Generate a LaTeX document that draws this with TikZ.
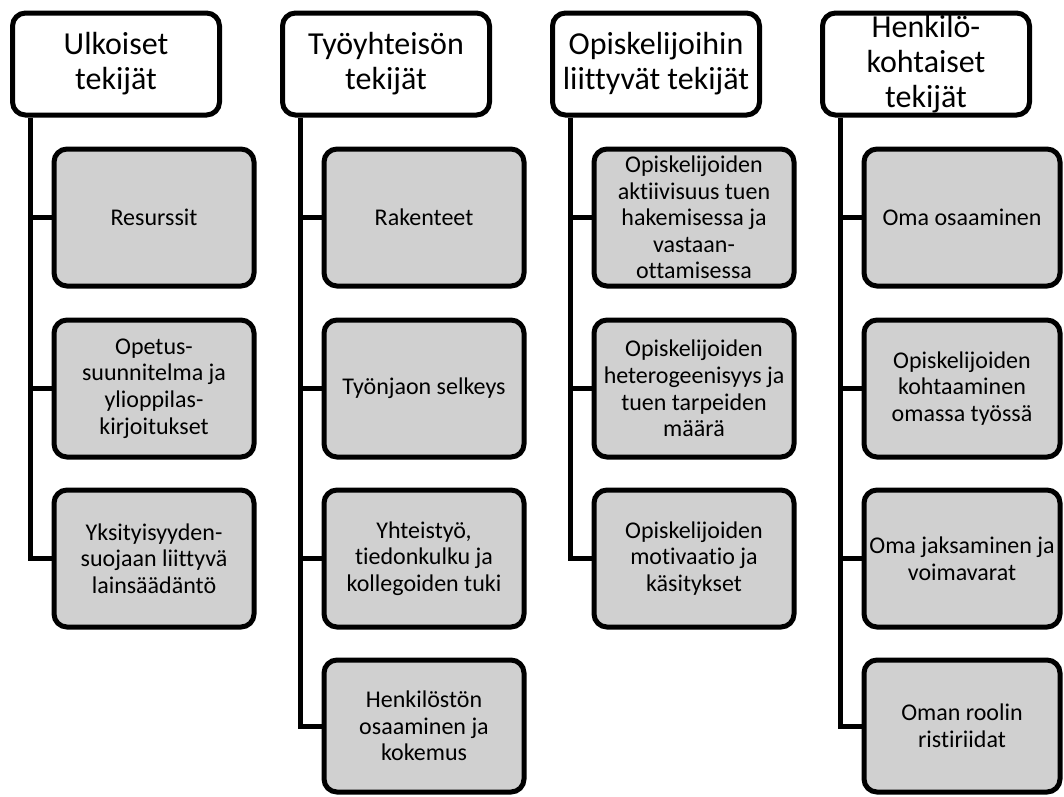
\documentclass[tikz,border=0pt]{standalone}
\usepackage{fontspec}
\setmainfont{Carlito}[Ligatures={NoCommon}]
\usetikzlibrary{calc}
\definecolor{boxgray}{RGB}{208,208,208}
\begin{document}
\begin{tikzpicture}[x=1pt,y=-1pt,
  frame/.style={draw=black, line width=5pt, rounded corners=13pt, inner sep=0pt},
  headbox/.style={frame, fill=white, minimum width=207pt, minimum height=102pt},
  headtext/.style={align=center, inner sep=0pt, font=\fontsize{32}{35}\selectfont},
  itembox/.style={frame, fill=boxgray, minimum width=200pt, minimum height=137pt,
    align=center, font=\fontsize{24}{26.6}\selectfont},
  lastbox/.style={itembox, minimum height=132pt},
  edgebox/.style={minimum width=196pt},
  wire/.style={line width=5pt}]
\useasboundingbox (0,0) rectangle (1064,796);

% ---- headings ----
\node[headbox] (h1) at (116,64) {};
\node[headbox] (h2) at (386,64) {};
\node[headbox] (h3) at (656,64) {};
\node[headbox] (h4) at (926,64) {};

% ---- column 1 ----
\node[itembox] (c11) at (154,217.5) {Resurssit};
\node[itembox] (c12) at (154,388.5) {Opetus-\\suunnitelma ja\\ylioppilas-\\kirjoitukset};
\node[itembox] (c13) at (154,558.5) {Yksityisyyden-\\suojaan liittyvä\\lainsäädäntö};

% ---- column 2 ----
\node[itembox] (c21) at (424,217.5) {Rakenteet};
\node[itembox] (c22) at (424,388.5) {Työnjaon selkeys};
\node[itembox] (c23) at (424,558.5) {Yhteistyö,\\tiedonkulku ja\\kollegoiden tuki};
\node[lastbox] (c24) at (424,726) {Henkilöstön\\osaaminen ja\\kokemus};

% ---- column 3 ----
\node[itembox] (c31) at (694,217.5) {Opiskelijoiden\\aktiivisuus tuen\\hakemisessa ja\\vastaan-\\ottamisessa};
\node[itembox] (c32) at (694,388.5) {Opiskelijoiden\\heterogeenisyys ja\\tuen tarpeiden\\määrä};
\node[itembox] (c33) at (694,558.5) {Opiskelijoiden\\motivaatio ja\\käsitykset};

% ---- column 4 ----
\node[itembox, edgebox] (c41) at (962,217.5) {Oma osaaminen};
\node[itembox, edgebox] (c42) at (962,388.5) {Opiskelijoiden\\kohtaaminen\\omassa työssä};
\node[itembox, edgebox] (c43) at (962,558.5) {Oma jaksaminen ja\\voimavarat};
\node[lastbox, edgebox] (c44) at (962,726) {Oman roolin\\ristiriidat};

% ---- spines and branches ----
\coordinate (s1) at ($(h1.south west)+(20.5,0)$);
\draw[wire] (s1) |- (c13.west);
\draw[wire] (s1 |- c11.west) -- (c11.west);
\draw[wire] (s1 |- c12.west) -- (c12.west);

\coordinate (s2) at ($(h2.south west)+(20.5,0)$);
\draw[wire] (s2) |- (c24.west);
\draw[wire] (s2 |- c21.west) -- (c21.west);
\draw[wire] (s2 |- c22.west) -- (c22.west);
\draw[wire] (s2 |- c23.west) -- (c23.west);

\coordinate (s3) at ($(h3.south west)+(20.5,0)$);
\draw[wire] (s3) |- (c33.west);
\draw[wire] (s3 |- c31.west) -- (c31.west);
\draw[wire] (s3 |- c32.west) -- (c32.west);

\coordinate (s4) at ($(h4.south west)+(20.5,0)$);
\draw[wire] (s4) |- (c44.west);
\draw[wire] (s4 |- c41.west) -- (c41.west);
\draw[wire] (s4 |- c42.west) -- (c42.west);
\draw[wire] (s4 |- c43.west) -- (c43.west);

% ---- heading texts (may run past the frame) ----
\node[headtext] at (h1) {Ulkoiset\\tekijät};
\node[headtext] at (h2) {Työyhteisön\\tekijät};
\node[headtext] at (h3) {Opiskelijoihin\\liittyvät tekijät};
\node[headtext] at (h4) {Henkilö-\\kohtaiset\\tekijät};
\end{tikzpicture}
\end{document}
